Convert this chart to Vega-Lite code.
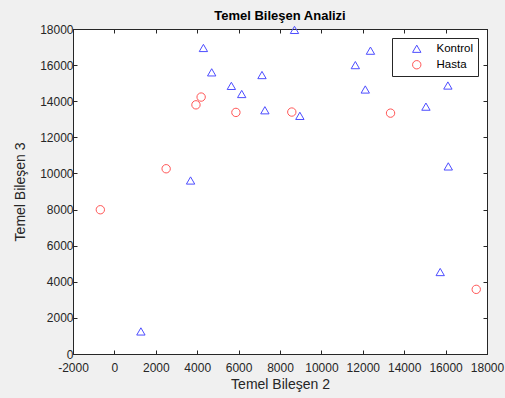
{
  "$schema": "https://vega.github.io/schema/vega-lite/v6.json",
  "autosize": {"type": "none"},
  "width": 414,
  "height": 325,
  "padding": {"left": 73, "top": 29, "right": 18, "bottom": 44},
  "background": "#f0f0f0",
  "title": {"text": "Temel Bileşen Analizi", "font": "Liberation Sans", "fontSize": 13, "fontWeight": "bold", "color": "#000000", "offset": 0},
  "config": {
    "view": {"fill": "white", "stroke": "#262626", "strokeWidth": 1},
    "axis": {"labelFont": "Liberation Sans", "titleFont": "Liberation Sans", "labelFontSize": 12, "titleFontSize": 14, "titleFontWeight": "normal", "labelColor": "#262626", "titleColor": "#262626", "domainColor": "#262626", "tickColor": "#262626", "tickSize": -4, "grid": false, "labelPadding": 4, "labelOverlap": false, "labelFlush": false, "labelExpr": "toString(datum.value)"}
  },
  "data": {"values": [
    {"x": 4300, "y": 16950, "grup": "Kontrol"},
    {"x": 4700, "y": 15600, "grup": "Kontrol"},
    {"x": 8700, "y": 17950, "grup": "Kontrol"},
    {"x": 5650, "y": 14850, "grup": "Kontrol"},
    {"x": 6150, "y": 14400, "grup": "Kontrol"},
    {"x": 7130, "y": 15450, "grup": "Kontrol"},
    {"x": 7270, "y": 13500, "grup": "Kontrol"},
    {"x": 8960, "y": 13190, "grup": "Kontrol"},
    {"x": 11640, "y": 16000, "grup": "Kontrol"},
    {"x": 12370, "y": 16800, "grup": "Kontrol"},
    {"x": 12120, "y": 14650, "grup": "Kontrol"},
    {"x": 15050, "y": 13700, "grup": "Kontrol"},
    {"x": 16110, "y": 14870, "grup": "Kontrol"},
    {"x": 3680, "y": 9610, "grup": "Kontrol"},
    {"x": 16130, "y": 10390, "grup": "Kontrol"},
    {"x": 15740, "y": 4540, "grup": "Kontrol"},
    {"x": 1280, "y": 1250, "grup": "Kontrol"},
    {"x": 3940, "y": 13800, "grup": "Hasta"},
    {"x": 4190, "y": 14230, "grup": "Hasta"},
    {"x": 5870, "y": 13380, "grup": "Hasta"},
    {"x": 8570, "y": 13400, "grup": "Hasta"},
    {"x": 13340, "y": 13340, "grup": "Hasta"},
    {"x": 2500, "y": 10260, "grup": "Hasta"},
    {"x": -680, "y": 7990, "grup": "Hasta"},
    {"x": 17480, "y": 3580, "grup": "Hasta"}
  ]},
  "layer": [
    {
      "mark": {"type": "point", "filled": false, "strokeWidth": 1, "size": 70, "opacity": 1},
      "encoding": {
        "x": {"field": "x", "type": "quantitative", "scale": {"domain": [-2000, 18000], "nice": false, "zero": false}, "axis": {"title": "Temel Bileşen 2", "values": [-2000, 0, 2000, 4000, 6000, 8000, 10000, 12000, 14000, 16000, 18000], "titlePadding": 4, "labelPadding": 12}},
        "y": {"field": "y", "type": "quantitative", "scale": {"domain": [0, 18000], "nice": false}, "axis": {"title": "Temel Bileşen 3", "values": [0, 2000, 4000, 6000, 8000, 10000, 12000, 14000, 16000, 18000], "titlePadding": 12}},
        "shape": {"field": "grup", "type": "nominal", "scale": {"domain": ["Kontrol", "Hasta"], "range": ["triangle-up", "circle"]}, "legend": {"title": null, "orient": "none", "legendX": 319, "legendY": 9, "fillColor": "white", "strokeColor": "#262626", "padding": 5, "labelFont": "Liberation Sans", "labelFontSize": 11.5, "labelColor": "#000000", "symbolStrokeWidth": 1, "symbolSize": 70, "labelOffset": 14, "rowPadding": 3, "symbolOffset": 14}},
        "color": {"field": "grup", "type": "nominal", "scale": {"domain": ["Kontrol", "Hasta"], "range": ["#4d4dff", "#ff5555"]}, "legend": {"title": null, "orient": "none", "legendX": 319, "legendY": 9, "fillColor": "white", "strokeColor": "#262626", "padding": 5, "labelFont": "Liberation Sans", "labelFontSize": 11.5, "labelColor": "#000000", "symbolStrokeWidth": 1, "symbolSize": 70, "labelOffset": 14, "rowPadding": 3, "symbolOffset": 14}}
      }
    },
    {
      "mark": {"type": "point", "opacity": 0},
      "encoding": {
        "x": {"field": "x", "type": "quantitative", "axis": {"orient": "top", "labels": false, "title": null, "values": [-2000, 0, 2000, 4000, 6000, 8000, 10000, 12000, 14000, 16000, 18000]}},
        "y": {"field": "y", "type": "quantitative", "axis": {"orient": "right", "labels": false, "title": null, "values": [0, 2000, 4000, 6000, 8000, 10000, 12000, 14000, 16000, 18000]}}
      }
    }
  ],
  "resolve": {"axis": {"x": "independent", "y": "independent"}}
}
